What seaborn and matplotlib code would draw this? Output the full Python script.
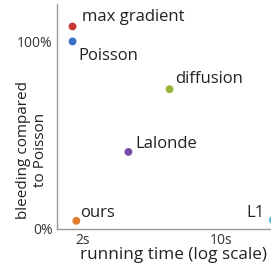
import matplotlib
matplotlib.use('Agg')
import matplotlib.pyplot as plt
import seaborn as sns
import pandas as pd

# values
methods = ['max gradient', 'Poisson', 'diffusion', 'Lalonde', 'ours', 'L1']
run_time = [1.77, 1.77, 5.5, 3.4, 1.85, 18.4]          # seconds
bleeding = [108.0, 100.0, 74.5, 41.0, 4.2, 4.7]        # % of Poisson
colors = ['#c8383a', '#3a70c6', '#97b53a', '#7a4aa8', '#e47d2b', '#4fb8dc']

# label placement (pixel offsets from point, alignment)
label_pos = {
    'max gradient': (9, 5, 'left'),
    'Poisson': (6, -19, 'left'),
    'diffusion': (6, 6, 'left'),
    'Lalonde': (7, 4, 'left'),
    'ours': (4, 4, 'left'),
    'L1': (-8, 3, 'right'),
}

df = pd.DataFrame({'method': methods, 'time': run_time, 'bleeding': bleeding})

sns.set_style('white')
plt.rcParams['font.family'] = ['Open Sans', 'DejaVu Sans']

fig = plt.figure(figsize=(2.71, 2.64), dpi=100)
ax = fig.add_axes([57 / 271, 35.3 / 264, 214 / 271, 224.7 / 264])

sns.scatterplot(data=df, x='time', y='bleeding', hue='method', palette=colors,
                s=32, edgecolor='none', legend=False, ax=ax, clip_on=False)

ax.set_xscale('log')
ax.set_xlim(1.476, 18.0)
ax.set_ylim(0, 120)

ax.set_xticks([2, 10])
ax.set_xticklabels(['2s', '10s'])
ax.set_xticks([3, 4, 5, 6, 7, 8, 9], minor=True)
ax.xaxis.set_minor_formatter(matplotlib.ticker.NullFormatter())
ax.set_yticks([0, 20, 40, 60, 80, 100])
ax.set_yticklabels(['0%', '', '', '', '', '100%'])
ax.tick_params(which='both', direction='in', length=3, width=0.8, color='#999999',
               labelsize=10, labelcolor='#333333', pad=3)

for side in ['top', 'right']:
    ax.spines[side].set_visible(False)
for side in ['left', 'bottom']:
    ax.spines[side].set_color('#9a9a9a')
    ax.spines[side].set_linewidth(1.0)

for m, t, b in zip(methods, run_time, bleeding):
    dx, dy, ha = label_pos[m]
    ax.annotate(m, (t, b), xytext=(dx, dy), textcoords='offset pixels',
                ha=ha, va='baseline', fontsize=12, color='#222222',
                annotation_clip=False)

ax.set_xlabel('running time (log scale)', fontsize=12.3, color='#222222')
ax.xaxis.set_label_coords(116 / 214, -0.08)
ax.set_ylabel('bleeding compared\nto Poisson', fontsize=11, color='#222222',
              linespacing=1.25)
ax.yaxis.set_label_coords(-0.04, 0.35)

plt.savefig('out.png', dpi=100)
plt.close()
